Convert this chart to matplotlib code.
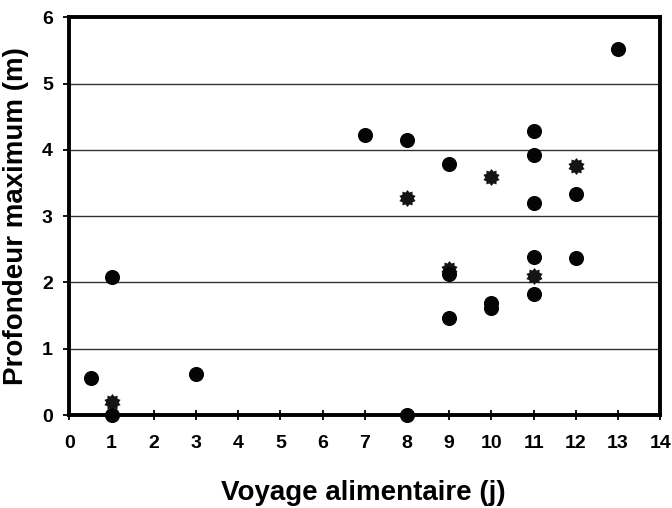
import numpy as np
import matplotlib
matplotlib.use("Agg")
import matplotlib.pyplot as plt
from matplotlib.path import Path

plt.rcParams["font.family"] = ["Liberation Sans", "DejaVu Sans"]
plt.rcParams["font.weight"] = "bold"

# circles
circle_x = [0.5, 1, 1, 3, 7, 8, 8, 9, 9, 9, 10, 10, 11, 11, 11, 11, 11, 12, 12, 13]
circle_y = [0.56, 2.08, 0.0, 0.62, 4.22, 4.15, 0.0, 3.79, 2.13, 1.47, 1.69, 1.62,
            4.28, 3.92, 3.20, 2.38, 1.82, 3.33, 2.37, 5.52]

# stars
star_x = [1, 8, 9, 10, 11, 12]
star_y = [0.20, 3.28, 2.21, 3.59, 2.09, 3.76]

x_ticks = list(range(0, 15))
y_ticks = list(range(0, 7))

fig = plt.figure(figsize=(6.72, 5.08), dpi=100)
ax = fig.add_axes([0.1034, 0.183, 0.879, 0.783])

ax.set_xlim(0, 14)
ax.set_ylim(0, 6)
ax.set_xticks(x_ticks)
ax.set_yticks(y_ticks)

ax.yaxis.grid(True, color="#333333", linewidth=1.0)
ax.set_axisbelow(True)

star_marker = Path.unit_regular_star(10, 0.74)
ax.scatter(star_x, star_y, marker=star_marker, s=150, color="#151515",
           zorder=3, clip_on=False, linewidths=0)
ax.scatter(circle_x, circle_y, marker="o", s=118, color="#050505",
           zorder=4, clip_on=False, linewidths=0)

for sp in ax.spines.values():
    sp.set_linewidth(2.8)
    sp.set_color("black")

ax.tick_params(axis="x", direction="inout", length=7, width=1.3, pad=11,
               labelsize=14)
ax.tick_params(axis="y", direction="out", length=4, width=1.3, pad=8,
               labelsize=14)
for lab in ax.get_xticklabels() + ax.get_yticklabels():
    lab.set_fontweight("bold")

fig.text(363 / 672, 0.03, "Voyage alimentaire (j)", ha="center", va="center",
         fontsize=20, fontweight="bold")
fig.text(16.5 / 672, 1 - 216 / 508, "Profondeur maximum (m)", ha="center",
         va="center", rotation=90, fontsize=20, fontweight="bold")

fig.savefig("out.png", dpi=100)
